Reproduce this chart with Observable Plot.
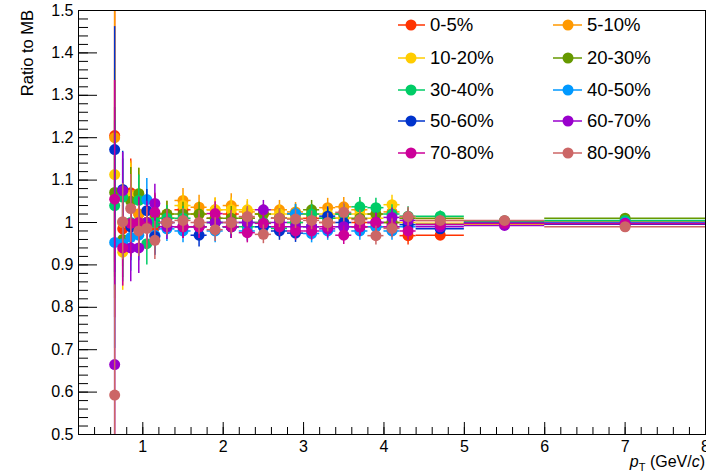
<!DOCTYPE html>
<html>
<head>
<meta charset="utf-8">
<script src="https://cdn.jsdelivr.net/npm/d3@7"></script>
<script src="https://cdn.jsdelivr.net/npm/@observablehq/plot@0.6"></script>
<style>
  html, body { margin: 0; padding: 0; background: white; }
  #chart { width: 706px; height: 476px; overflow: hidden; }
</style>
</head>
<body>
<div id="chart"></div>
<script>
// ---- data ----
const binLow  = [0.6,0.7,0.8,0.9,1.0,1.1,1.2,1.4,1.6,1.8,2.0,2.2,2.4,2.6,2.8,3.0,3.2,3.4,3.6,3.8,4.0,4.2,4.4,5.0,6.0];
const binHigh = [0.7,0.8,0.9,1.0,1.1,1.2,1.4,1.6,1.8,2.0,2.2,2.4,2.6,2.8,3.0,3.2,3.4,3.6,3.8,4.0,4.2,4.4,5.0,6.0,8.0];
const binCenter = [0.65,0.75,0.85,0.95,1.05,1.15,1.3,1.5,1.7,1.9,2.1,2.3,2.5,2.7,2.9,3.1,3.3,3.5,3.7,3.9,4.1,4.3,4.7,5.5,7.0];

const names  = ["0-5%","5-10%","10-20%","20-30%","30-40%","40-50%","50-60%","60-70%","70-80%","80-90%"];
const colors = ["#ff3300","#ff9900","#ffcc00","#669900","#00cc66","#0099ff","#0033cc","#9900cc","#cc0099","#cc6666"];

const r0_5   = [1.205,0.985,1.070,1.020,1.000,0.990,1.010,1.030,1.020,1.010,1.020,1.010,1.000,1.010,1.000,1.010,1.000,1.010,1.000,0.990,1.000,0.969,0.970,0.998,1.000];
const r5_10  = [1.200,1.000,1.065,1.020,1.000,1.010,1.020,1.052,1.036,1.030,1.040,1.025,1.020,1.030,1.025,1.020,1.035,1.037,1.030,1.020,1.025,1.010,1.005,1.000,1.002];
const r10_20 = [1.113,0.930,1.060,1.068,1.000,1.000,1.010,1.040,1.020,1.030,1.030,1.030,1.020,1.020,1.010,1.020,1.020,1.010,1.020,1.010,1.042,1.000,0.998,0.996,0.998];
const r20_30 = [1.071,0.960,1.050,1.068,1.000,1.020,1.020,1.020,1.020,1.010,1.010,1.010,1.020,1.010,1.020,1.030,1.010,1.020,1.010,1.020,1.000,1.010,1.010,1.003,1.010];
const r30_40 = [1.040,1.060,1.000,1.052,0.950,1.000,1.010,1.010,0.990,1.000,0.990,0.990,1.000,0.986,1.000,1.020,1.010,1.020,1.037,1.035,1.020,1.015,1.015,1.004,1.005];
const r40_50 = [0.953,0.950,0.965,0.970,1.054,0.970,0.985,0.980,0.990,0.980,0.990,0.980,0.990,0.990,1.021,0.974,0.980,0.990,0.980,0.990,0.980,0.990,0.995,1.000,1.000];
const r50_60 = [1.172,1.078,0.990,0.998,1.028,0.967,1.000,0.990,0.970,1.000,0.990,1.000,0.990,0.980,0.975,0.990,1.015,1.000,0.990,1.000,0.990,0.995,0.985,0.998,0.996];
const r60_70 = [0.665,1.075,0.940,0.940,1.000,1.045,0.990,0.990,0.990,1.000,1.000,1.000,1.030,1.000,0.990,0.990,0.985,0.990,0.990,1.000,1.012,1.005,0.990,0.993,0.998];
const r70_80 = [1.055,0.940,0.998,1.000,0.990,1.024,1.000,0.990,0.990,1.021,0.990,0.976,0.998,0.990,0.980,0.980,0.990,0.970,0.990,1.000,0.990,0.980,0.995,0.998,0.997];
const r80_90 = [0.593,1.002,1.033,0.980,0.986,0.958,1.000,1.005,1.000,0.983,1.000,1.014,0.972,1.010,1.008,1.005,1.000,1.024,1.007,0.969,0.986,1.014,1.005,1.005,0.990];
const ratios = [r0_5,r5_10,r10_20,r20_30,r30_40,r40_50,r50_60,r60_70,r70_80,r80_90];

// statistical errors: first bin per series, then the other bins (common)
const errFirstBin = [0.30,0.38,0.25,0.20,0.20,0.25,0.29,0.30,0.28,0.26];
const errOtherBins = [0.09,0.08,0.06,0.05,0.045,0.03,0.028,0.028,0.028,0.028,0.024,0.022,0.022,0.022,0.022,0.022,0.022,0.022,0.022,0.022,0.022,0.012,0.01,0.01];

const xMajor = [1,2,3,4,5,6,7,8];
const xMinor = d3.range(1, 40).map(i => i / 5);
const yMajor = d3.range(5, 16).map(i => i / 10);
const yMinor = d3.range(25, 76).map(i => i / 50);

// ---- build table ----
const series = names.map((name, s) => ({
  name, color: colors[s],
  points: binCenter.map((x, i) => ({
    x, xlo: binLow[i], xhi: binHigh[i], y: ratios[s][i],
    e: i === 0 ? errFirstBin[s] : errOtherBins[i - 1]
  }))
}));

const font = "'Liberation Sans', Arial, Helvetica, sans-serif";

const marks = [];
series.forEach(s => {
  marks.push(Plot.ruleY(s.points, {y: "y", x1: "xlo", x2: "xhi", stroke: s.color, strokeWidth: 1.5, clip: true}));
  marks.push(Plot.ruleX(s.points, {x: "x", y1: d => d.y - d.e, y2: d => d.y + d.e, stroke: s.color, strokeWidth: 1.5, clip: true}));
  marks.push(Plot.dot(s.points, {x: "x", y: "y", r: 5.5, fill: s.color, stroke: "none", clip: true}));
});

marks.push(Plot.axisY({ticks: yMinor, tickSize: -10, tickFormat: () => "", label: null, strokeWidth: 1}));
marks.push(Plot.axisY({ticks: yMajor, tickSize: -19, tickPadding: 24, tickFormat: d3.format("~g"), label: null, fontSize: 16}));
marks.push(Plot.axisX({ticks: xMinor, tickSize: -7, tickFormat: () => "", label: null}));
marks.push(Plot.axisX({ticks: xMajor, tickSize: -12, tickPadding: 18, tickFormat: d3.format("d"), label: null, fontSize: 16}));
marks.push(Plot.frame({stroke: "black", strokeWidth: 1}));

const chart = Plot.plot({
  width: 706, height: 476,
  marginLeft: 78, marginRight: 1, marginTop: 10, marginBottom: 42,
  x: {domain: [0.2, 8]},
  y: {domain: [0.5, 1.5]},
  style: {fontFamily: font, fontSize: "16px", color: "black", background: "white", overflow: "hidden"},
  marks
});
document.getElementById("chart").appendChild(chart);

// ---- axis titles and legend ----
const svg = d3.select(chart);
svg.append("text")
  .attr("transform", "translate(33,10) rotate(-90)")
  .attr("text-anchor", "end")
  .attr("font-family", font).attr("font-size", 16.5).attr("fill", "black")
  .text("Ratio to MB");

const xt = svg.append("text")
  .attr("x", 705).attr("y", 467)
  .attr("text-anchor", "end")
  .attr("font-family", font).attr("font-size", 16).attr("fill", "black");
xt.append("tspan").attr("font-style", "italic").text("p");
xt.append("tspan").attr("font-size", 11).attr("dy", 4).text("T");
xt.append("tspan").attr("dy", -4).text(" (GeV/");
xt.append("tspan").attr("font-style", "italic").text("c");
xt.append("tspan").text(")");

const legCols = [{lx1: 398, lx2: 425, mx: 411, tx: 430}, {lx1: 553, lx2: 582, mx: 568, tx: 587}];
const legRows = [25, 58, 90, 121, 153];
const leg = svg.append("g");
series.forEach((s, i) => {
  const c = legCols[i % 2], y = legRows[Math.floor(i / 2)];
  leg.append("line").attr("x1", c.lx1).attr("x2", c.lx2).attr("y1", y).attr("y2", y)
    .attr("stroke", s.color).attr("stroke-width", 1.5);
  leg.append("circle").attr("cx", c.mx).attr("cy", y).attr("r", 5.5).attr("fill", s.color);
  leg.append("text").attr("x", c.tx).attr("y", y).attr("dy", "0.35em")
    .attr("text-anchor", "start")
    .attr("font-family", font).attr("font-size", 18.5).attr("fill", "black").text(s.name);
});
</script>
</body>
</html>
